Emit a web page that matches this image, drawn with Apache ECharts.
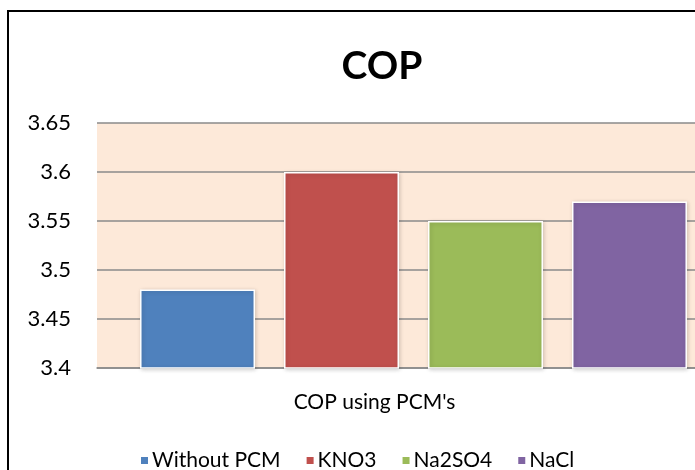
<!DOCTYPE html>
<html>
<head>
<meta charset="utf-8">
<script src="https://cdn.jsdelivr.net/npm/echarts@6/dist/echarts.min.js"></script>
<style>
  html, body { margin: 0; padding: 0; background: #fff; overflow: hidden; }
  #chart { position: absolute; left: 0; top: 0; width: 800px; height: 500px; }
</style>
</head>
<body>
<div id="chart"></div>
<script>
// COP comparison with and without phase change materials
const categories = ["COP using PCM's"];
const seriesNames = ['Without PCM', 'KNO3', 'Na2SO4', 'NaCl'];
const copValues = [3.48, 3.60, 3.55, 3.57];
const seriesColors = ['#4F81BD', '#C0504D', '#9BBB59', '#8064A2'];
const yTicks = { min: 3.4, max: 3.65, step: 0.05 };

const FONT = 'Lato';

const chart = echarts.init(document.getElementById('chart'), null, { renderer: 'canvas' });

const series = seriesNames.map((name, i) => ({
  name: name,
  type: 'bar',
  data: [copValues[i]],
  barWidth: 115,
  barGap: '25.2%',
  itemStyle: {
    color: seriesColors[i],
    borderColor: '#ffffff',
    borderWidth: 1.5,
    shadowColor: 'rgba(0,0,0,0.18)',
    shadowBlur: 4,
    shadowOffsetX: 1,
    shadowOffsetY: 1
  }
}));

chart.setOption({
  animation: false,
  backgroundColor: '#ffffff',
  title: {
    text: 'COP',
    left: 377,
    textAlign: 'center',
    top: 42,
    textStyle: { fontFamily: FONT, fontWeight: 'bold', fontSize: 39, color: '#000' }
  },
  legend: {
    data: seriesNames,
    left: 134,
    top: 445,
    itemWidth: 9,
    itemHeight: 9,
    itemGap: 24,
    icon: 'rect',
    textStyle: { fontFamily: FONT, fontSize: 21, color: '#000', padding: [0, 0, 0, -2] }
  },
  grid: {
    left: 97,
    top: 123,
    right: 70,
    bottom: 132,
    show: true,
    backgroundColor: '#FDE9D9',
    borderWidth: 0,
    containLabel: false
  },
  xAxis: {
    type: 'category',
    data: categories,
    axisLine: { show: true, lineStyle: { color: '#8a8a8a', width: 1.5 } },
    axisTick: { show: false },
    axisLabel: {
      fontFamily: FONT, fontSize: 21, color: '#000',
      margin: 24, padding: [0, 78, 0, 0]
    }
  },
  yAxis: {
    type: 'value',
    min: yTicks.min,
    max: yTicks.max,
    interval: yTicks.step,
    axisLine: { show: false },
    axisTick: { show: false },
    splitLine: { show: true, lineStyle: { color: '#8a8a8a', width: 1.5 } },
    axisLabel: {
      fontFamily: FONT, fontSize: 22, color: '#000', margin: 26, align: 'right',
      formatter: v => String(parseFloat(v.toFixed(2)))
    }
  },
  graphic: [{
    type: 'rect',
    shape: { x: 8, y: 11, width: 780, height: 520 },
    style: { fill: 'none', stroke: '#000', lineWidth: 2 },
    silent: true,
    z: 100
  }],
  series: series
});
</script>
</body>
</html>
